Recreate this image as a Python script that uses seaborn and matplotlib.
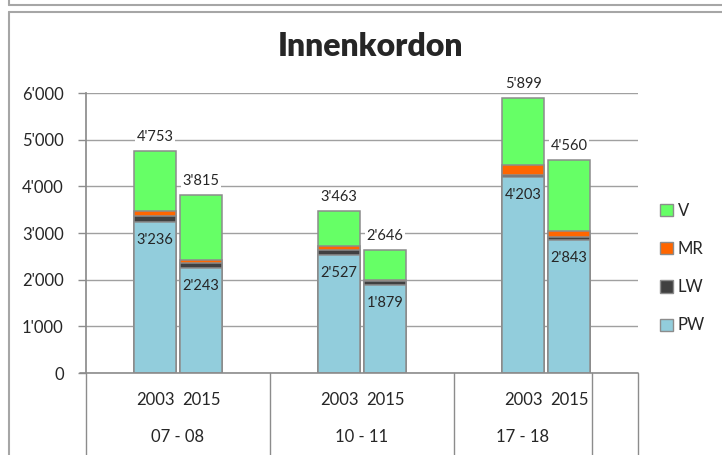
import matplotlib
matplotlib.use("Agg")
import matplotlib.pyplot as plt
from matplotlib.patches import Patch
from matplotlib.ticker import FuncFormatter
import pandas as pd
import seaborn as sns

# data
groups = ["07 - 08", "10 - 11", "17 - 18"]
years = ["2003", "2015"]
pw = [3236, 2243, 2527, 1879, 4203, 2843]
lw = [120, 107, 113, 90, 50, 80]
mr = [110, 70, 80, 20, 200, 110]
v = [1287, 1395, 743, 657, 1446, 1527]
series = ["V", "MR", "LW", "PW"]
colors = {"V": "#66FF66", "MR": "#FF6600", "LW": "#404040", "PW": "#92CDDC"}
edge = "#8C8C8C"


def fmt(x):
    return f"{int(round(x)):,}".replace(",", "'")


df = pd.DataFrame({
    "group": [g for g in groups for _ in years],
    "year": years * len(groups),
    "PW": pw, "LW": lw, "MR": mr, "V": v,
})
df["cum_PW"] = df["PW"]
df["cum_LW"] = df["cum_PW"] + df["LW"]
df["cum_MR"] = df["cum_LW"] + df["MR"]
df["cum_V"] = df["cum_MR"] + df["V"]

sns.set_theme(style="white")
plt.rcParams["font.family"] = ["Lato", "DejaVu Sans"]

fig = plt.figure(figsize=(7.22, 4.55), dpi=100)
ax = fig.add_axes([86 / 722, 1 - 373 / 455, (638 - 86) / 722, (373 - 93) / 455])

# stacked bars by overdrawing cumulative heights, top layer first
for s in series:
    sns.barplot(data=df, x="group", y="cum_" + s, hue="year", order=groups,
                hue_order=years, palette={y: colors[s] for y in years},
                width=0.5, gap=0.09, dodge=True, legend=False,
                edgecolor=edge, linewidth=1.1, saturation=1, ax=ax, zorder=3)

ax.set_xlim(-0.5, 2.5)
ax.set_ylim(0, 6000)
ax.set_yticks(range(0, 6001, 1000))
ax.yaxis.set_major_formatter(FuncFormatter(lambda x, p: fmt(x)))
ax.tick_params(axis="y", labelsize=12, length=6, color=edge, width=1,
               left=True, pad=10)
ax.set_xticks([])
ax.set_xlabel("")
ax.set_ylabel("")
ax.grid(axis="y", color="#A0A0A0", linewidth=1, zorder=0)
for side in ["top", "right", "bottom"]:
    ax.spines[side].set_visible(False)
ax.spines["left"].set_color(edge)
ax.spines["left"].set_bounds(-0.295, 6000)
ax.spines["left"].set_position(("data", -0.5))

# labels: totals above, PW inside
tot_bars = ax.containers[0].patches + ax.containers[1].patches
pw_bars = ax.containers[-2].patches + ax.containers[-1].patches
tot_bars = sorted(tot_bars, key=lambda p: p.get_x())
pw_bars = sorted(pw_bars, key=lambda p: p.get_x())
for p in tot_bars:
    ax.annotate(fmt(p.get_height()), (p.get_x() + p.get_width() / 2, p.get_height()),
                xytext=(0, 5), textcoords="offset points", ha="center", va="bottom",
                fontsize=10.5, zorder=5,
                bbox=dict(facecolor="white", edgecolor="none", pad=1))
for p in pw_bars:
    ax.annotate(fmt(p.get_height()), (p.get_x() + p.get_width() / 2, p.get_height()),
                xytext=(0, -8), textcoords="offset points", ha="center", va="top",
                fontsize=10.5, zorder=5)

# two-level category axis
trans = ax.get_xaxis_transform()
bounds = [-0.5, 0.5, 1.5, 2.25]
for b in bounds + [2.5]:
    ax.plot([b, b], [0, -0.3], transform=trans, color=edge, lw=1, clip_on=False)
ax.plot([-0.53, 2.5], [0, 0], transform=trans, color=edge, lw=1.2, clip_on=False, zorder=4)
for p, y in zip(tot_bars, years * len(groups)):
    ax.text(p.get_x() + p.get_width() / 2, -0.096, y, transform=trans,
            ha="center", va="center", fontsize=12)
for i, g in enumerate(groups):
    ax.text((bounds[i] + (bounds + [2.5])[i + 1]) / 2, -0.229, g, transform=trans,
            ha="center", va="center", fontsize=12)

handles = [Patch(facecolor=colors[s], edgecolor=edge, label=s) for s in series]
fig.legend(handles=handles, loc="upper left", bbox_to_anchor=(660 / 722, 1 - 203 / 455),
           frameon=False, fontsize=12, labelspacing=1.33, handlelength=0.75,
           handleheight=0.75, handletextpad=0.3, borderaxespad=0, borderpad=0)

fig.text(370 / 722, 1 - 47 / 455, "Innenkordon", ha="center", va="center",
         fontsize=23, fontweight="heavy")

# chart frame lines
fl = dict(color="#A6A6A6", lw=1.5, transform=fig.transFigure)
fig.add_artist(plt.Line2D([9 / 722, 1], [1 - 5 / 455, 1 - 5 / 455], **fl))
fig.add_artist(plt.Line2D([9 / 722, 9 / 722], [1, 1 - 5 / 455], **fl))
fig.add_artist(plt.Line2D([9 / 722, 1], [1 - 12 / 455, 1 - 12 / 455], **fl))
fig.add_artist(plt.Line2D([9 / 722, 9 / 722], [0, 1 - 12 / 455], **fl))

fig.savefig("out.png", dpi=100)
